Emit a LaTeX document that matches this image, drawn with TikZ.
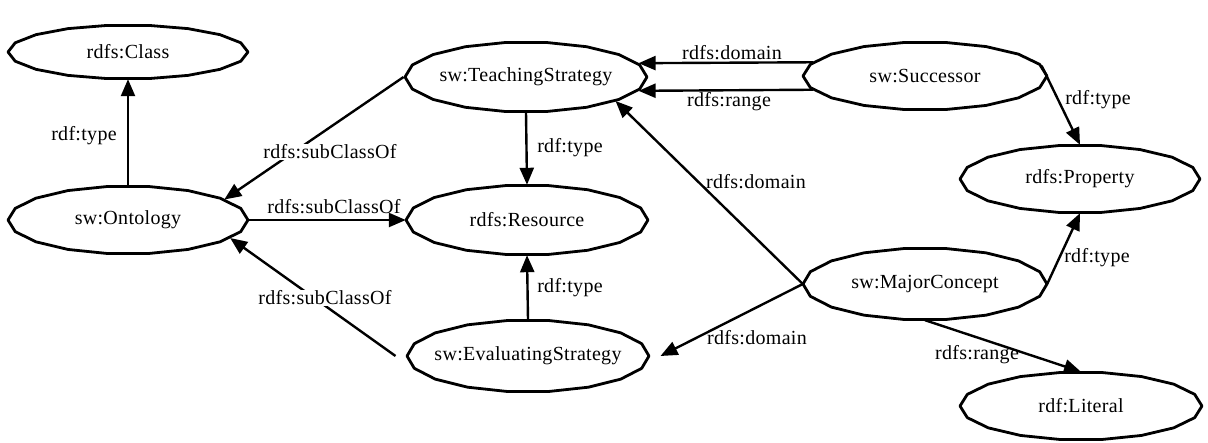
\documentclass[tikz,border=0pt]{standalone}
\usepackage{fontspec}
\setmainfont[LetterSpace=1.5]{Liberation Serif}
\usetikzlibrary{arrows.meta,shapes.geometric}

% \cnode{name}{x}{y}{half width}{half height}{text}: a concept drawn as a polygonal ellipse
\newcommand\cnode[6]{%
  \node[concept, minimum width=#4*2pt, minimum height=#5*2pt] (#1) at (#2,#3) {#6};
  \draw[outline] plot[samples=19, domain=0:360, variable=\t]
    ({#2 + #4*cos(\t)}, {#3 + #5*sin(\t)}) -- cycle;
}

\tikzset{
  concept/.style={ellipse, draw=none, inner sep=0pt, font=\fontsize{20}{23}\selectfont},
  outline/.style={line width=2.8pt, line join=round},
  rel/.style={line width=2.4pt, -{Triangle[length=17pt, width=14pt]}},
  lbl/.style={inner sep=1pt, font=\fontsize{20}{23}\selectfont},
  cut/.style={lbl, fill=white},
}

\begin{document}
\begin{tikzpicture}[x=1pt, y=-1pt]
\useasboundingbox (0,0) rectangle (1208,442);

% concepts
\cnode{cls}{128}{52}{120}{27}{rdfs:Class}
\cnode{ont}{128}{220}{120}{34}{sw:Ontology}
\cnode{ts}{526}{77}{121}{35}{sw:TeachingStrategy}
\cnode{res}{527}{220}{121}{35}{rdfs:Resource}
\cnode{evs}{528}{356}{121}{36}{sw:EvaluatingStrategy}
\cnode{succ}{925}{76}{122}{34}{sw:Successor}
\cnode{prop}{1080}{179}{120}{34}{rdfs:Property}
\cnode{mc}{925}{284}{122}{36}{sw:MajorConcept}
\cnode{lit}{1081}{406}{121}{34}{rdf:Literal}

% relations
\draw[rel] (ont.north) -- (cls.south);
\draw[rel] (ts.west) -- (ont.12);
\draw[rel] (ont.east) -- (res.west);
\draw[rel] (evs.west) -- (ont.-10);
\draw[rel] (ts.south) -- (res.north);
\draw[rel] (evs.north) -- (res.south);
\draw[rel] (succ.173) -- (ts.7);
\draw[rel] (succ.-173) -- (ts.-7);
\draw[rel] (mc.west) -- (ts.-15);
\draw[rel] (mc.west) -- (evs.east);
\draw[rel] (succ.5) -- (prop.north);
\draw[rel] (mc.east) -- (prop.south);
\draw[rel] (mc.south) -- (lit.north);

% relation labels
\node[lbl] (l1) at (84,136) {rdf:type};
\node[cut] (l2) at (330,152) {rdfs:subClassOf};
\node[lbl] (l3) at (334,207) {rdfs:subClassOf};
\node[cut] (l4) at (325,298) {rdfs:subClassOf};
\node[lbl] (l5) at (570,148) {rdf:type};
\node[lbl] (l6) at (570,288) {rdf:type};
\node[lbl] (l7) at (732,53) {rdfs:domain};
\node[lbl] (l8) at (729,102) {rdfs:range};
\node[lbl] (l9) at (756,182) {rdfs:domain};
\node[lbl] (l10) at (757,338) {rdfs:domain};
\node[lbl] (l11) at (1098,100) {rdf:type};
\node[lbl] (l12) at (1097,258) {rdf:type};
\node[lbl] (l13) at (977,355) {rdfs:range};
\end{tikzpicture}
\end{document}
